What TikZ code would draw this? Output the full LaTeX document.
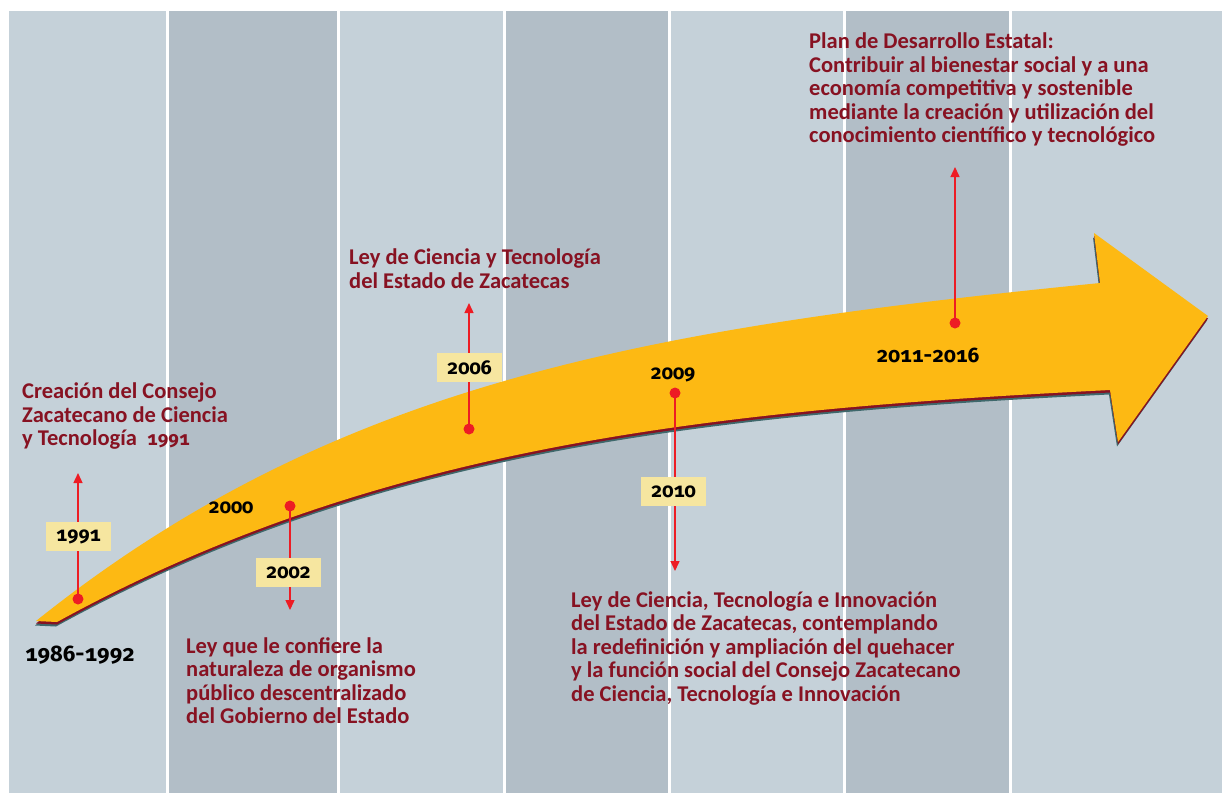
\documentclass[tikz,border=0pt]{standalone}
\usepackage{fontspec}
\setmainfont{Carlito}
\newfontfamily\cifras{Fira Sans}[Numbers={OldStyle,Monospaced}]
\usetikzlibrary{arrows.meta}
\definecolor{franjaA}{RGB}{197,209,217}
\definecolor{franjaB}{RGB}{178,190,199}
\definecolor{flecha}{RGB}{253,185,19}
\definecolor{vino}{RGB}{135,18,34}
\definecolor{sombra}{RGB}{62,104,108}
\definecolor{rojo}{RGB}{237,28,36}
\definecolor{caja}{RGB}{246,230,160}

\tikzset{
  hito/.style={circle, fill=rojo, inner sep=0pt, minimum size=11pt},
  guia/.style={rojo, line width=1.4pt, -{Triangle[width=9pt,length=10pt]}},
  anio/.style={fill=caja, minimum width=65pt, minimum height=29pt, inner sep=0pt, font=\cifras\fontsize{20}{20}\selectfont\bfseries},
  fecha/.style={inner sep=0pt, font=\cifras\fontsize{20}{20}\selectfont\bfseries},
  texto/.style={vino, anchor=north west, align=left, inner sep=0pt, font=\fontsize{22.5}{23.5}\selectfont\bfseries}
}

\begin{document}
\begin{tikzpicture}[x=1pt, y=-1pt]
\useasboundingbox (0,0) rectangle (1222,793);
\fill [white] (0,0) rectangle (1222,793);

% franjas del fondo
\foreach \a/\b/\c in {9/166/franjaA, 169/337/franjaB, 340/503/franjaA, 506/668/franjaB, 671/843/franjaA, 846/1009/franjaB, 1012/1222/franjaA}
  \fill [\c] (\a,11) rectangle (\b,793);

% flecha con sombra
\foreach \dx/\dy/\c in {-1/4.5/sombra, 0/2.5/vino, 0/0/flecha}
  \fill [\c, shift={(\dx,\dy)}] (36,621) .. controls (336,381) and (650,328) .. (1100,283)
    -- (1094,233) -- (1208,316) -- (1118,442) -- (1110,390)
    .. controls (710,410) and (377,446) .. (57,622) -- cycle;

% hitos
\node (p1991) [hito] at (78,599) {};
\coordinate (f1991) at (78,473);
\draw [guia] (p1991.center) -- (f1991);
\node (c1991) [anio] at (78.5,536.5) {1991};

\node (p2002) [hito] at (290,506) {};
\coordinate (f2002) at (290,610);
\draw [guia] (p2002.center) -- (f2002);
\node (c2002) [anio] at (288.5,572.5) {2002};

\node (p2006) [hito] at (469,429) {};
\coordinate (f2006) at (469,303);
\draw [guia] (p2006.center) -- (f2006);
\node (c2006) [anio] at (469.5,367.5) {2006};

\node (p2010) [hito] at (675,393) {};
\coordinate (f2010) at (675,571);
\draw [guia] (p2010.center) -- (f2010);
\node (c2010) [anio] at (673.5,491.5) {2010};

\node (p2011) [hito] at (955,323) {};
\coordinate (f2011) at (955,167);
\draw [guia] (p2011.center) -- (f2011);

% fechas
\node (a1986) [fecha, font=\cifras\fontsize{22.5}{24}\selectfont\bfseries] at (80,655) {1986-1992};
\node (a2000) [fecha] at (231,508) {2000};
\node (a2009) [fecha] at (673,375) {2009};
\node (a2011) [fecha, font=\cifras\fontsize{21}{24}\selectfont\bfseries] at (928,355) {2011-2016};

% textos
\node (t1991) [texto] at (22,383) {Creación del Consejo\\Zacatecano de Ciencia\\y Tecnología~~{\cifras\fontsize{19}{20}\selectfont 1991}};
\node (t2006) [texto] at (349,249) {Ley de Ciencia y Tecnología\\del Estado de Zacatecas};
\node (t2011) [texto] at (809,33) {Plan de Desarrollo Estatal:\\Contribuir al bienestar social y a una\\economía competitiva y sostenible\\mediante la creación y utilización del\\conocimiento científico y tecnológico};
\node (t2002) [texto] at (186,637) {Ley que le confiere la\\naturaleza de organismo\\público descentralizado\\del Gobierno del Estado};
\node (t2010) [texto] at (571,591) {Ley de Ciencia, Tecnología e Innovación\\del Estado de Zacatecas, contemplando\\la redefinición y ampliación del quehacer\\y la función social del Consejo Zacatecano\\de Ciencia, Tecnología e Innovación};
\end{tikzpicture}
\end{document}
